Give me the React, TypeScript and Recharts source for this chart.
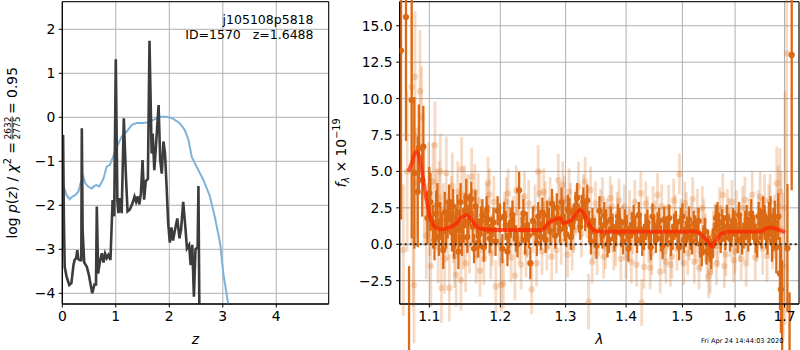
import React from 'react';
import {
  ComposedChart, Line, Scatter, XAxis, YAxis, CartesianGrid, ErrorBar, ReferenceLine, ReferenceArea,
} from 'recharts';

const FONT = 'DejaVu Sans, Verdana, sans-serif';

// ---------- Left panel: log p(z) ----------
const zBlue = [0.01, 0.04, 0.08, 0.14, 0.19, 0.24, 0.30, 0.34, 0.39, 0.43, 0.49, 0.55, 0.60, 0.64, 0.69, 0.74, 0.77, 0.83, 0.89, 0.95, 1.02, 1.11, 1.20, 1.30, 1.39, 1.50, 1.58, 1.70, 1.83, 1.95, 2.07, 2.20, 2.29, 2.36, 2.42, 2.51, 2.64, 2.76, 2.85, 2.95, 3.01, 3.10, 3.16];
const logpBlue = [-1.55, -1.62, -1.77, -1.86, -1.80, -1.77, -1.69, -1.50, -1.35, -1.50, -1.58, -1.62, -1.56, -1.54, -1.57, -1.47, -1.39, -1.12, -1.08, -0.90, -0.67, -0.44, -0.33, -0.17, -0.13, -0.13, -0.12, -0.06, 0.01, 0.01, -0.03, -0.14, -0.29, -0.52, -0.90, -1.12, -1.43, -1.80, -2.26, -2.86, -3.55, -4.23, -4.70];

const zDark = [0.005, 0.015, 0.03, 0.045, 0.08, 0.13, 0.17, 0.21, 0.23, 0.26, 0.28, 0.30, 0.33, 0.355, 0.365, 0.38, 0.41, 0.46, 0.50, 0.52, 0.56, 0.60, 0.63, 0.645, 0.67, 0.70, 0.74, 0.77, 0.80, 0.83, 0.86, 0.90, 0.94, 0.97, 1.00, 1.03, 1.05, 1.08, 1.11, 1.15, 1.19, 1.22, 1.26, 1.31, 1.35, 1.38, 1.41, 1.44, 1.47, 1.50, 1.53, 1.56, 1.60, 1.63, 1.67, 1.69, 1.72, 1.75, 1.80, 1.83, 1.86, 1.89, 1.92, 1.95, 1.98, 2.01, 2.04, 2.07, 2.10, 2.15, 2.19, 2.22, 2.26, 2.30, 2.33, 2.37, 2.40, 2.43, 2.46, 2.49, 2.53, 2.545, 2.565];
const logpDark = [-0.45, -0.40, -2.33, -3.40, -3.62, -3.81, -3.77, -3.35, -3.24, -3.20, -3.02, -3.22, -3.25, -3.25, -0.25, -2.56, -3.30, -3.40, -3.60, -3.74, -4.00, -3.80, -3.80, -2.03, -3.55, -3.30, -3.09, -3.30, -3.10, -3.20, -3.13, -3.24, -1.88, -2.25, 1.32, -1.90, -2.18, -1.84, -2.18, -0.02, -1.35, -2.14, -2.10, -1.96, -1.80, -1.92, -1.80, -1.98, -1.73, -0.97, -1.87, -1.45, -1.40, 1.74, -0.82, -0.37, -1.20, -0.67, 0.28, -0.97, -1.28, -0.55, -0.82, -1.58, -2.41, -2.85, -2.50, -2.80, -2.60, -2.30, -2.75, -2.55, -1.92, -2.49, -2.98, -2.90, -3.36, -2.90, -4.08, -3.00, -2.95, -1.56, -4.80];

const zTicks = [0, 1, 2, 3, 4];
const logpTicks = [-4, -3, -2, -1, 0, 1, 2];

// ---------- Right panel: spectrum ----------
const modelLam = [1.0720, 1.0765, 1.0822, 1.0866, 1.0919, 1.0964, 1.1009, 1.1077, 1.1168, 1.1282, 1.1375, 1.1445, 1.1515, 1.1586, 1.1658, 1.1753, 1.1946, 1.2624, 1.2728, 1.2832, 1.2911, 1.2964, 1.3023, 1.3099, 1.3179, 1.3232, 1.3287, 1.3368, 1.3451, 1.3533, 1.5268, 1.5362, 1.5456, 1.5551, 1.5614, 1.5710, 1.5807, 1.5904, 1.6499, 1.6566, 1.6702, 1.6840, 1.7014];
const modelFlux = [4.99, 5.56, 6.36, 6.02, 4.40, 3.02, 1.90, 1.21, 1.03, 1.17, 1.44, 1.85, 2.01, 1.67, 1.21, 1.03, 0.98, 0.98, 1.44, 1.67, 1.79, 1.44, 1.53, 1.67, 2.13, 2.36, 2.13, 1.44, 0.98, 0.87, 0.87, 0.64, 0.30, -0.16, 0.18, 0.64, 0.80, 0.87, 0.87, 0.98, 1.14, 1.03, 0.82];

// dark (high weight) spectrum points: first pass
const darkLamA = [1.0625, 1.069, 1.073, 1.0765, 1.080, 1.0845, 1.086, 1.0905, 1.092, 1.0975, 1.1015, 1.105, 1.109, 1.113, 1.117, 1.121, 1.125, 1.127, 1.131, 1.134, 1.137, 1.140, 1.143, 1.147, 1.151, 1.154, 1.158, 1.162, 1.166, 1.170, 1.174, 1.178, 1.182, 1.187, 1.1995, 1.203, 1.208, 1.213, 1.218, 1.223, 1.228, 1.232, 1.237, 1.245, 1.249, 1.253, 1.257, 1.261, 1.266, 1.271, 1.276, 1.281, 1.286, 1.291, 1.296, 1.301, 1.306, 1.311, 1.316, 1.321, 1.326, 1.335, 1.338, 1.341, 1.347, 1.355, 1.360, 1.366, 1.371, 1.377, 1.383, 1.389, 1.395, 1.401, 1.407, 1.413, 1.419, 1.425, 1.431, 1.437, 1.443, 1.449, 1.455, 1.461, 1.467, 1.473, 1.479, 1.485, 1.491, 1.497, 1.503, 1.509, 1.515, 1.521, 1.527, 1.533, 1.539, 1.545, 1.551, 1.557, 1.563, 1.569, 1.575, 1.581, 1.587, 1.593, 1.599, 1.605, 1.611, 1.617, 1.623, 1.629, 1.635, 1.641, 1.647, 1.653, 1.659, 1.665, 1.671, 1.677, 1.683, 1.687, 1.6905, 1.6925, 1.695, 1.706, 1.7105, 1.715];
const darkFluxA = [13.3, 15.6, -5.5, 9.9, 4.9, 3.6, 6.6, 4.4, 6.7, 1.8, 2.9, 1.2, 2.1, 0.5, 0.8, 2.2, 1.7, 2.9, 0.8, 0.2, 1.4, -0.5, 2.9, 1.3, 3.2, 1.6, 3.1, -0.3, 1.5, 0.7, 2.0, 1.0, 1.7, 0.9, 1.8, -0.3, 1.3, 0.6, 2.0, 0.4, 3.7, 1.0, 0.3, -1.3, 1.6, 0.8, 1.9, 0.5, 1.2, 2.0, 0.9, 1.8, 2.5, 1.0, 1.9, 0.7, 2.2, 1.5, 2.6, 1.8, 2.4, 3.0, 1.3, 0.2, 0.9, 2.3, 0.6, 1.5, 0.3, 1.2, 0.8, 1.6, 0.2, 1.1, 0.6, 1.8, 0.3, 1.0, 0.5, 1.5, -0.2, 0.9, 1.3, 0.4, 1.7, 0.7, 0.1, 1.2, 0.8, 1.6, 0.3, 1.0, 0.5, 1.4, 0.8, 0.0, 0.4, -0.5, -0.3, 0.2, 1.8, 0.9, 1.5, 0.5, 1.2, 0.7, 1.4, 0.3, 1.0, 0.6, 1.7, 0.9, 1.3, 0.4, 1.9, 0.8, 1.5, 0.6, 1.9, 1.0, -0.2, 1.9, -2.0, -3.1, -4.6, -0.27, -6.5, 13.0];
const darkErrA = [11.6, 8.5, 4.0, 9.5, 5.2, 3.8, 3.0, 2.5, 2.8, 1.8, 2.0, 1.5, 1.6, 1.3, 1.4, 1.4, 1.3, 1.2, 1.3, 1.2, 1.1, 1.2, 1.3, 1.2, 1.3, 1.1, 1.2, 1.0, 1.1, 1.0, 1.1, 1.0, 1.0, 1.0, 1.0, 1.0, 1.0, 0.9, 1.0, 0.9, 1.3, 0.9, 1.0, 1.1, 1.0, 0.9, 1.0, 0.9, 1.0, 1.0, 0.9, 1.0, 1.0, 0.9, 1.0, 0.9, 1.0, 1.0, 1.0, 1.0, 1.0, 1.1, 1.0, 0.9, 0.9, 1.0, 0.9, 0.9, 0.9, 0.9, 0.9, 0.9, 0.9, 0.9, 0.9, 0.9, 0.9, 0.9, 0.9, 0.9, 0.9, 0.9, 0.9, 0.9, 0.9, 0.9, 0.9, 0.9, 0.9, 0.9, 0.9, 0.9, 0.9, 0.9, 0.9, 0.9, 0.9, 0.9, 0.9, 0.9, 0.9, 0.9, 0.9, 0.9, 0.9, 0.9, 0.9, 0.9, 0.9, 0.9, 1.0, 1.0, 1.0, 1.0, 1.0, 1.1, 1.2, 1.3, 1.4, 1.5, 1.8, 1.6, 2.5, 3.0, 3.5, 4.4, 3.2, 9.3];

// dark points: second pass (in between)
const darkLamB = [1.100, 1.107, 1.111, 1.115, 1.119, 1.123, 1.129, 1.1325, 1.1355, 1.1385, 1.1415, 1.145, 1.149, 1.1525, 1.156, 1.160, 1.164, 1.168, 1.172, 1.176, 1.180, 1.1845, 1.190, 1.193, 1.196, 1.2055, 1.2105, 1.2155, 1.2205, 1.2255, 1.2345, 1.2395, 1.243, 1.255, 1.259, 1.2635, 1.2685, 1.2735, 1.2785, 1.2835, 1.2885, 1.2935, 1.2985, 1.3035, 1.3085, 1.3135, 1.3185, 1.3235, 1.3285, 1.3315, 1.3435, 1.350, 1.3575, 1.363, 1.3685, 1.374, 1.380, 1.386, 1.392, 1.398, 1.404, 1.410, 1.416, 1.422, 1.428, 1.434, 1.440, 1.446, 1.452, 1.458, 1.464, 1.470, 1.476, 1.482, 1.488, 1.494, 1.500, 1.506, 1.512, 1.518, 1.524, 1.530, 1.536, 1.542, 1.548, 1.554, 1.560, 1.566, 1.572, 1.578, 1.584, 1.590, 1.596, 1.602, 1.608, 1.614, 1.620, 1.626, 1.632, 1.638, 1.644, 1.650, 1.656, 1.662, 1.668, 1.674, 1.680];
const darkFluxB = [3.5, 0.3, 2.7, 1.6, -0.4, 1.0, 1.9, 2.6, 0.9, 2.2, 1.0, 0.4, 2.3, 0.5, 2.4, 1.2, 2.6, 0.1, 1.6, -0.2, 2.3, 0.4, 1.5, 0.2, 2.3, 1.9, -0.5, 1.5, 1.1, 0.0, 2.1, 1.3, 0.6, 0.1, 1.4, 2.2, 0.3, 1.6, 2.8, 0.6, 1.5, 2.9, 1.1, 2.4, 0.5, 1.9, 3.2, 1.2, 2.9, 1.9, 1.6, -0.1, 1.0, 2.0, 0.0, 1.7, 0.4, 1.9, 0.7, 1.5, -0.3, 1.3, 0.8, 2.0, 0.1, 1.2, 0.7, 1.9, 0.3, 1.6, -0.1, 1.0, 1.8, 0.5, 1.4, -0.2, 1.9, 0.7, 1.7, 0.2, 1.1, 1.6, -0.6, 0.9, 0.1, -0.8, 0.6, 2.0, 0.3, 1.1, 1.8, 0.4, 1.6, 0.9, 2.0, 0.2, 1.3, 0.5, 2.1, 1.0, 0.1, 1.4, 2.2, 0.9, 1.6, 0.2, 1.5];
const darkErrB = [1.8, 1.4, 1.5, 1.3, 1.3, 1.3, 1.2, 1.2, 1.2, 1.2, 1.2, 1.2, 1.2, 1.1, 1.1, 1.1, 1.1, 1.0, 1.0, 1.0, 1.0, 1.0, 1.0, 1.0, 1.0, 1.0, 1.0, 1.0, 0.9, 0.9, 1.0, 0.9, 0.9, 0.9, 0.9, 1.0, 0.9, 0.9, 1.0, 0.9, 0.9, 1.0, 0.9, 1.0, 0.9, 0.9, 1.0, 0.9, 1.0, 1.0, 0.9, 0.9, 0.9, 0.9, 0.9, 0.9, 0.9, 0.9, 0.9, 0.9, 0.9, 0.9, 0.9, 0.9, 0.9, 0.9, 0.9, 0.9, 0.9, 0.9, 0.9, 0.9, 0.9, 0.9, 0.9, 0.9, 0.9, 0.9, 0.9, 0.9, 0.9, 0.9, 0.9, 0.9, 0.9, 0.9, 0.9, 0.9, 0.9, 0.9, 0.9, 0.9, 0.9, 0.9, 0.9, 0.9, 1.0, 1.0, 1.0, 1.0, 1.0, 1.1, 1.1, 1.2, 1.3, 1.4, 1.5];

// light (low weight) spectrum points: first pass
const lightLamA = [1.0655, 1.0705, 1.0765, 1.0785, 1.0795, 1.0809, 1.083, 1.0875, 1.0897, 1.093, 1.096, 1.099, 1.102, 1.1077, 1.110, 1.112, 1.115, 1.1165, 1.119, 1.1232, 1.1273, 1.130, 1.133, 1.1367, 1.139, 1.1435, 1.1445, 1.147, 1.150, 1.153, 1.1586, 1.161, 1.165, 1.168, 1.172, 1.176, 1.180, 1.184, 1.188, 1.1934, 1.197, 1.2015, 1.2045, 1.209, 1.2135, 1.2217, 1.226, 1.231, 1.236, 1.240, 1.247, 1.252, 1.257, 1.2595, 1.263, 1.268, 1.273, 1.278, 1.2884, 1.293, 1.298, 1.303, 1.308, 1.313, 1.3205, 1.3314, 1.337, 1.3405, 1.346, 1.351, 1.357, 1.362, 1.368, 1.373, 1.379, 1.385, 1.391, 1.397, 1.403, 1.409, 1.415, 1.4255, 1.427, 1.431, 1.437, 1.4419, 1.447, 1.455, 1.4597, 1.465, 1.470, 1.475, 1.481, 1.487, 1.4946, 1.500, 1.5045, 1.510, 1.516, 1.522, 1.528, 1.534, 1.540, 1.546, 1.552, 1.558, 1.564, 1.570, 1.576, 1.582, 1.588, 1.594, 1.600, 1.606, 1.612, 1.6195, 1.6255, 1.640, 1.646, 1.6499, 1.655, 1.6702, 1.6755, 1.6839, 1.6905, 1.693, 1.6975, 1.701, 1.7046];
const lightFluxA = [-0.4, 5.0, 10.8, 0.2, -2.8, 11.5, 4.2, 10.5, 8.7, 3.3, 0.6, 4.0, -1.5, 6.8, 2.6, -0.2, 5.0, -3.0, 1.8, 4.9, -3.0, 2.4, 0.9, -2.1, 3.6, -2.45, 5.15, 0.3, -1.3, 2.8, 4.64, 1.9, -0.8, 3.0, 1.2, -1.0, 2.4, 3.4, 0.3, -2.9, 1.5, -2.8, -2.7, 2.9, 0.9, -2.15, 2.2, -1.4, 3.3, 0.7, -3.1, 2.5, 5.0, 3.5, -0.5, 2.7, 1.3, -0.85, 4.4, 0.2, 3.1, -0.7, 2.6, 1.0, 3.96, 4.3, -3.94, 3.73, 0.5, -0.62, 2.3, -0.85, 1.6, 3.16, -0.3, 2.1, -1.0, 2.6, 0.6, -1.2, 2.9, 3.5, -4.0, -1.54, 1.8, -1.6, 2.5, 3.39, -1.88, 0.4, -1.2, 2.58, -0.85, 1.9, 4.83, 0.1, 2.82, -0.62, 1.4, -1.2, 2.3, -0.4, 1.6, -1.08, -1.88, 0.8, -1.3, 2.4, 3.39, -0.7, 1.7, 2.9, -0.5, 1.2, -1.0, 3.04, 0.5, -0.9, 2.0, 3.27, -0.3, 2.93, 0.3, 4.19, 3.6, 1.0, -1.5, 2.5, 13.1];
const lightErrA = [4.5, 5.5, 5.0, 4.5, 4.0, 4.5, 3.8, 4.2, 3.5, 3.4, 3.0, 3.0, 2.8, 3.0, 2.6, 2.5, 2.6, 2.4, 2.4, 2.5, 2.3, 2.3, 2.2, 2.2, 2.1, 2.1, 2.2, 2.0, 2.0, 2.0, 2.0, 1.9, 1.9, 1.9, 1.8, 1.8, 1.8, 1.8, 1.8, 1.8, 1.7, 1.8, 1.7, 1.7, 1.7, 1.7, 1.7, 1.7, 1.7, 1.6, 1.7, 1.6, 1.8, 1.6, 1.6, 1.6, 1.6, 1.6, 1.8, 1.6, 1.6, 1.6, 1.6, 1.6, 1.7, 1.7, 1.9, 1.6, 1.5, 1.5, 1.5, 1.5, 1.5, 1.5, 1.5, 1.5, 1.5, 1.5, 1.5, 1.5, 1.5, 1.5, 1.6, 1.5, 1.5, 1.5, 1.5, 1.5, 1.5, 1.5, 1.5, 1.5, 1.5, 1.5, 1.4, 1.5, 1.5, 1.5, 1.5, 1.5, 1.5, 1.5, 1.5, 1.5, 1.5, 1.5, 1.5, 1.5, 1.5, 1.5, 1.5, 1.5, 1.5, 1.5, 1.5, 1.6, 1.6, 1.6, 1.7, 1.7, 1.8, 1.9, 2.0, 2.5, 3.0, 4.0, 5.0, 8.0, 9.0];

// light points: second pass
const lightLamB = [1.1005, 1.105, 1.1135, 1.121, 1.1255, 1.1315, 1.1345, 1.1415, 1.1485, 1.1555, 1.163, 1.1665, 1.1705, 1.178, 1.182, 1.186, 1.1905, 1.199, 1.2065, 1.2115, 1.216, 1.219, 1.2235, 1.2285, 1.2335, 1.2385, 1.2425, 1.2495, 1.2545, 1.2655, 1.2705, 1.2755, 1.2805, 1.2855, 1.2905, 1.2955, 1.3005, 1.3055, 1.3105, 1.316, 1.3255, 1.3285, 1.3345, 1.343, 1.3485, 1.354, 1.360, 1.365, 1.3705, 1.376, 1.382, 1.388, 1.394, 1.400, 1.406, 1.412, 1.418, 1.4225, 1.434, 1.4395, 1.4445, 1.4505, 1.4625, 1.4675, 1.4725, 1.478, 1.484, 1.490, 1.497, 1.5025, 1.507, 1.513, 1.519, 1.525, 1.531, 1.537, 1.543, 1.549, 1.555, 1.561, 1.567, 1.573, 1.579, 1.585, 1.591, 1.597, 1.603, 1.609, 1.615, 1.622, 1.628, 1.634, 1.643, 1.6525, 1.659, 1.664, 1.6675, 1.679, 1.687];
const lightFluxB = [2.0, 4.3, 3.2, -1.0, 1.2, 4.0, -0.8, 1.5, 3.4, 0.0, 3.6, 1.0, -1.8, 0.8, 4.2, -0.6, 2.9, 0.2, 1.9, 3.5, -0.9, 1.6, 3.7, 0.4, 1.7, -0.6, 2.8, 1.0, -1.3, 3.6, -0.2, 3.0, 1.7, -0.4, 2.6, 4.1, 1.5, 3.6, -0.2, 2.2, 0.7, 3.2, 2.0, -1.2, 2.8, 1.1, 3.1, -0.2, 1.1, 2.6, 0.0, 3.0, 1.2, -0.9, 2.2, 0.8, -1.4, 1.4, 2.8, 0.2, -0.6, 1.5, 2.6, -0.5, 1.1, -1.4, 3.0, -0.3, 1.6, -1.3, 2.1, 0.4, 3.1, 0.2, -1.6, 2.5, 0.6, -2.2, -0.6, 1.3, -0.1, 1.2, -1.5, 2.3, 0.6, -1.1, 2.2, 0.3, 2.5, -1.3, 1.6, 3.4, 0.4, 1.5, 3.0, -0.8, 2.2, 1.2, 2.6];
const lightErrB = [2.8, 2.7, 2.5, 2.4, 2.3, 2.3, 2.2, 2.1, 2.0, 2.0, 1.9, 1.9, 1.8, 1.8, 1.8, 1.8, 1.8, 1.7, 1.7, 1.7, 1.7, 1.7, 1.7, 1.7, 1.7, 1.7, 1.6, 1.6, 1.6, 1.6, 1.6, 1.6, 1.6, 1.6, 1.6, 1.6, 1.6, 1.6, 1.6, 1.6, 1.6, 1.6, 1.6, 1.5, 1.5, 1.5, 1.5, 1.5, 1.5, 1.5, 1.5, 1.5, 1.5, 1.5, 1.5, 1.5, 1.5, 1.5, 1.5, 1.5, 1.5, 1.5, 1.5, 1.5, 1.5, 1.5, 1.5, 1.5, 1.5, 1.5, 1.5, 1.5, 1.5, 1.5, 1.5, 1.5, 1.5, 1.5, 1.5, 1.5, 1.5, 1.5, 1.5, 1.5, 1.5, 1.5, 1.5, 1.5, 1.5, 1.6, 1.6, 1.6, 1.6, 1.7, 1.8, 1.8, 1.9, 2.2, 2.8];

const lamTicks = [1.1, 1.2, 1.3, 1.4, 1.5, 1.6, 1.7];
const fluxTicks = [-2.5, 0, 2.5, 5, 7.5, 10, 12.5, 15];

// ---------- build series ----------
const blueData = zBlue.map((x, i) => ({ x, y: logpBlue[i] }));
const darkLineData = zDark.map((x, i) => ({ x, y: logpDark[i] }));
const modelData = modelLam.map((x, i) => ({ x, y: modelFlux[i] }));
const darkPts = [
  ...darkLamA.map((x, i) => ({ x, y: darkFluxA[i], e: darkErrA[i] })),
  ...darkLamB.map((x, i) => ({ x, y: darkFluxB[i], e: darkErrB[i] })),
];
const lightPts = [
  ...lightLamA.map((x, i) => ({ x, y: lightFluxA[i], e: lightErrA[i] })),
  ...lightLamB.map((x, i) => ({ x, y: lightFluxB[i], e: lightErrB[i] })),
];

const ORANGE = '#dc6a14';
const minus = (s: string) => s.replace('-', '\u2212');
const tickStyle = { fontSize: 13.9, fill: '#000', fontFamily: FONT };

const Z_DOMAIN: [number, number] = [0, 4.98];
const LP_DOMAIN: [number, number] = [-4.243, 2.627];
const LAM_DOMAIN: [number, number] = [1.0608, 1.7304];
const F_DOMAIN: [number, number] = [-4.1, 16.65];

const darkDot = (p: any) => <circle cx={p.cx} cy={p.cy} r={3.1} fill={ORANGE} />;
const lightDot = (p: any) => <circle cx={p.cx} cy={p.cy} r={3.2} fill={ORANGE} fillOpacity={0.25} />;

export default function App() {
  return (
    <div style={{ position: 'absolute', left: 0, top: 0, width: 800, height: 350, background: '#fff', fontFamily: FONT }}>
      <div style={{ position: 'absolute', left: 0, top: 0 }}>
        <ComposedChart width={330} height={350} margin={{ top: 1.7, right: 1.3, bottom: 16, left: 0 }}>
          <CartesianGrid stroke="#b0b0b0" strokeWidth={1} />
          <XAxis dataKey="x" type="number" domain={Z_DOMAIN} ticks={zTicks} allowDataOverflow height={30}
            tick={tickStyle} tickSize={3.5} tickMargin={3.5} stroke="#000" tickFormatter={(v: number) => String(v)} />
          <YAxis dataKey="y" type="number" domain={LP_DOMAIN} ticks={logpTicks} allowDataOverflow width={62.3}
            tick={tickStyle} tickSize={3.5} tickMargin={3.5} stroke="#000" tickFormatter={(v: number) => minus(String(v))} />
          <Line data={blueData} dataKey="y" type="linear" stroke="#7fb2d8" strokeWidth={2} dot={false} isAnimationActive={false} />
          <Line data={darkLineData} dataKey="y" type="linear" stroke="#3c3c3c" strokeWidth={2.6} dot={false} isAnimationActive={false} />
          <ReferenceArea x1={Z_DOMAIN[0]} x2={Z_DOMAIN[1]} y1={LP_DOMAIN[0]} y2={LP_DOMAIN[1]} fill="none" stroke="#000" strokeWidth={1} fillOpacity={0} />
        </ComposedChart>
      </div>
      <div style={{ position: 'absolute', left: 340, top: 0 }}>
        <ComposedChart width={460} height={350} margin={{ top: 1.7, right: 1, bottom: 16, left: 0 }}>
          <CartesianGrid stroke="#b0b0b0" strokeWidth={1} />
          <XAxis dataKey="x" type="number" scale="log" domain={LAM_DOMAIN} ticks={lamTicks} allowDataOverflow height={30}
            tick={tickStyle} tickSize={3.5} tickMargin={3.5} stroke="#000" tickFormatter={(v: number) => v.toFixed(1)} />
          <YAxis dataKey="y" type="number" domain={F_DOMAIN} ticks={fluxTicks} allowDataOverflow width={59.7}
            tick={tickStyle} tickSize={3.5} tickMargin={3.5} stroke="#000" tickFormatter={(v: number) => minus(v.toFixed(1))} />
          <Scatter data={lightPts} dataKey="y" shape={lightDot} isAnimationActive={false}>
            <ErrorBar dataKey="e" direction="y" width={0} stroke={ORANGE} strokeOpacity={0.25} strokeWidth={2.8} isAnimationActive={false} />
          </Scatter>
          <Scatter data={darkPts} dataKey="y" shape={darkDot} isAnimationActive={false}>
            <ErrorBar dataKey="e" direction="y" width={0} stroke={ORANGE} strokeWidth={2.3} isAnimationActive={false} />
          </Scatter>
          <ReferenceArea x1={LAM_DOMAIN[0]} x2={LAM_DOMAIN[1]} y1={F_DOMAIN[0]} y2={F_DOMAIN[1]} fill="none" stroke="#000" strokeWidth={1} fillOpacity={0} />
        </ComposedChart>
      </div>
      {/* model line and zero line, drawn on top of the data points with identical axes */}
      <div style={{ position: 'absolute', left: 340, top: 0 }}>
        <ComposedChart width={460} height={350} margin={{ top: 1.7, right: 1, bottom: 46, left: 59.7 }}>
          <XAxis dataKey="x" type="number" scale="log" domain={LAM_DOMAIN} allowDataOverflow hide />
          <YAxis dataKey="y" type="number" domain={F_DOMAIN} allowDataOverflow hide />
          <ReferenceLine y={0} stroke="#222" strokeWidth={2} strokeDasharray="2 3" />
          <Line data={modelData} dataKey="y" type="monotone" stroke="#ff2200" strokeOpacity={0.72} strokeWidth={3.8} dot={false} isAnimationActive={false} />
        </ComposedChart>
      </div>
      <svg width={800} height={350} style={{ position: 'absolute', left: 0, top: 0, pointerEvents: 'none' }} fontFamily={FONT}>
        <text x={313.5} y={24} textAnchor="end" fontSize={12.5}>j105108p5818</text>
        <text x={313.5} y={38.5} textAnchor="end" fontSize={12.5} style={{ whiteSpace: 'pre' }} xmlSpace="preserve">ID=1570   z=1.6488</text>
        <g transform="translate(16.5,240) rotate(-90)" fontSize={13.9}>
          <text x={98} y={0} textAnchor="end">
            <tspan>log </tspan>
            <tspan fontStyle="italic">p</tspan>
            <tspan>(</tspan>
            <tspan fontStyle="italic">z</tspan>
            <tspan>) / </tspan>
            <tspan fontStyle="italic">χ</tspan>
            <tspan fontSize={9.7} dy={-5.5}>2</tspan>
            <tspan dy={5.5}> =</tspan>
          </text>
          <text x={112} y={-6} textAnchor="middle" fontSize={9}>2632</text>
          <line x1={100.5} x2={123.5} y1={-4.3} y2={-4.3} stroke="#000" strokeWidth={0.8} />
          <text x={112} y={3.6} textAnchor="middle" fontSize={9}>2775</text>
          <text x={126} y={0} textAnchor="start">= 0.95</text>
        </g>
        <text transform="translate(346,153) rotate(-90)" textAnchor="middle" fontSize={13.9}>
          <tspan fontStyle="italic">f</tspan>
          <tspan fontStyle="italic" fontSize={9.7} dy={3}>λ</tspan>
          <tspan dy={-3}> × 10</tspan>
          <tspan fontSize={9.7} dy={-6}>−19</tspan>
        </text>
        <text x={195.5} y={344} textAnchor="middle" fontSize={13.9} fontStyle="italic">z</text>
        <text x={599.3} y={344} textAnchor="middle" fontSize={13.9} fontStyle="italic">λ</text>
        <text x={701} y={342.5} fontSize={6.6}>Fri Apr 24 14:44:03 2020</text>
      </svg>
    </div>
  );
}
